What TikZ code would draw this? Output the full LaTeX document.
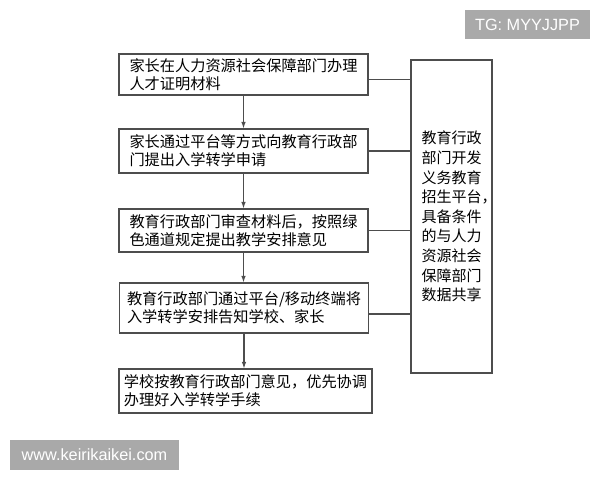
\documentclass[tikz,border=0pt]{standalone}
\usepackage{fontspec}
\setmainfont{Noto Sans CJK SC}
\newfontfamily\markfont{Liberation Sans}
\usetikzlibrary{arrows.meta}
\definecolor{linegray}{HTML}{4D4D4D}
\definecolor{badgegray}{HTML}{A9A9A9}
\begin{document}
\begin{tikzpicture}[x=0.75pt, y=-0.75pt,
        stepbox/.style={draw=linegray, line width=0.8pt, align=left, inner sep=0pt,
            minimum width=186.75pt, minimum height=32.25pt,
            font=\fontsize{11.4pt}{13.5pt}\selectfont},
        infobox/.style={draw=linegray, line width=0.8pt, align=left, inner sep=0pt,
            minimum width=60.75pt, minimum height=234.75pt,
            font=\fontsize{11.25pt}{14.7pt}\selectfont},
        arr/.style={draw=linegray, line width=0.8pt, -{Latex[length=5pt, width=3.5pt]}},
        conn/.style={draw=linegray, line width=0.8pt},
        badge/.style={fill=badgegray, text=white, inner sep=0pt,
            font=\markfont\fontsize{12.2pt}{14pt}\selectfont}]
            \useasboundingbox (0, 0) rectangle (600, 480);

            % steps on the left
            \node[stepbox, minimum height=30.75pt] (b1) at (243.5, 74.5) {家长在人力资源社会保障部门办理\\人才证明材料};

            \node[stepbox, minimum height=33pt] (b2) at (243.5, 151) {家长通过平台等方式向教育行政部\\门提出入学转学申请};

            \node[stepbox] (b3) at (243.5, 230.5) {教育行政部门审查材料后，按照绿\\色通道规定提出教学安排意见};

            \node[stepbox, minimum height=37.5pt] (b4) at (244, 308) {教育行政部门通过平台/移动终端将\\入学转学安排告知学校、家长};

            \node[stepbox, minimum width=189.75pt, minimum height=33pt] (b5) at (245.5, 391) {学校按教育行政部门意见，优先协调\\办理好入学转学手续};

            % platform box on the right
            \node[infobox] (info) at (451.5, 216.5) {教育行政\\部门开发\\义务教育\\招生平台\rlap{，}\\具备条件\\的与人力\\资源社会\\保障部门\\数据共享};

            \draw[arr] (b1.south) -- (b1.south |- b2.north);

            \draw[arr] (b2.south) -- (b2.south |- b3.north);

            \draw[arr] (b3.south) -- (b3.south |- b4.north);

            \draw[arr] (b4.south) -- (b4.south |- b5.north);

            \draw[conn] ([yshift=-3.4pt]b1.east) -- ([yshift=-3.4pt]b1.east -| info.west);

            \draw[conn] (b2.east) -- (b2.east -| info.west);

            \draw[conn] (b3.east) -- (b3.east -| info.west);

            \draw[conn] ([yshift=-4.5pt]b4.east) -- ([yshift=-4.5pt]b4.east -| info.west);

            % watermarks
            \node[badge, minimum width=93.75pt, minimum height=21.75pt] (tg) at (527.5, 24.5) {TG: MYYJJPP};

            \node[badge, minimum width=126.75pt, minimum height=22.5pt] (site) at (94.5, 455) {www.keirikaikei.com};
        \end{tikzpicture}
\end{document}
